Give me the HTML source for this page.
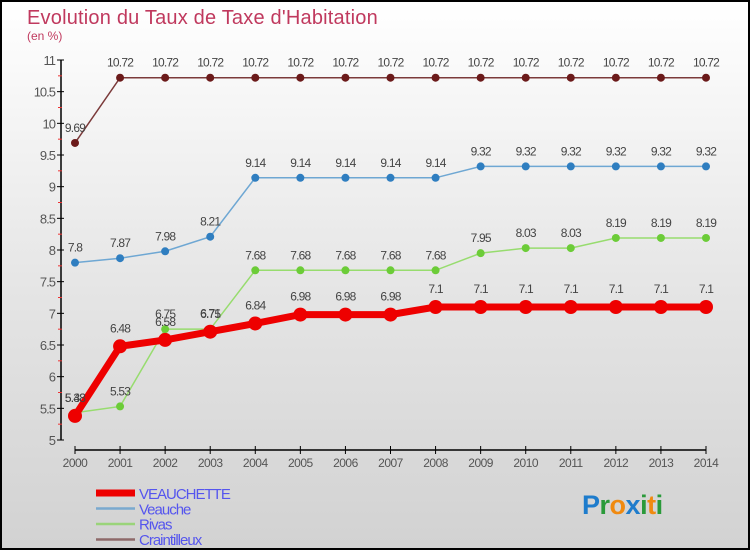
<!DOCTYPE html>
<html><head><meta charset="utf-8"><style>
html,body{margin:0;padding:0;}
#wrap{width:746px;height:546px;border:2px solid #000;position:relative;overflow:hidden;
background:linear-gradient(#ffffff 0%,#e4e4e4 55%,#d2d2d2 100%);font-family:"Liberation Sans",sans-serif;}
svg{position:absolute;left:-2px;top:-2px;}
</style></head><body>
<div id="wrap">
<svg id="chart" width="750" height="550">
<text x="27" y="24" font-size="20" letter-spacing="0.2" fill="#c0395e">Evolution du Taux de Taxe d'Habitation</text>
<text x="27" y="40" font-size="12" fill="#c0395e">(en %)</text>
</svg>
</div>
<script>
const years=[2000,2001,2002,2003,2004,2005,2006,2007,2008,2009,2010,2011,2012,2013,2014];
const veauchette=[5.38,6.48,6.58,6.71,6.84,6.98,6.98,6.98,7.1,7.1,7.1,7.1,7.1,7.1,7.1];
const veauche=[7.8,7.87,7.98,8.21,9.14,9.14,9.14,9.14,9.14,9.32,9.32,9.32,9.32,9.32,9.32];
const rivas=[5.43,5.53,6.75,6.75,7.68,7.68,7.68,7.68,7.68,7.95,8.03,8.03,8.19,8.19,8.19];
const craintilleux=[9.69,10.72,10.72,10.72,10.72,10.72,10.72,10.72,10.72,10.72,10.72,10.72,10.72,10.72,10.72];
const yTicks=[5,5.5,6,6.5,7,7.5,8,8.5,9,9.5,10,10.5,11];
const seriesNames=["VEAUCHETTE","Veauche","Rivas","Craintilleux"];

const svg=document.getElementById('chart');
const NS='http://www.w3.org/2000/svg';
const X=i=>75+i*(706-75)/(years.length-1);
const Y=v=>440-(v-5)*(380/6);
function el(t,a,p){const e=document.createElementNS(NS,t);for(const k in a)e.setAttribute(k,a[k]);(p||svg).appendChild(e);return e;}

let ax=el('line',{x1:61,y1:60,x2:61,y2:440,stroke:'#000','stroke-width':1.5});


yTicks.forEach(v=>{
  el('line',{x1:57,y1:Y(v),x2:64,y2:Y(v),stroke:'#000'});
  if(v<11){el('line',{x1:58,y1:Y(v+0.25),x2:62,y2:Y(v+0.25),stroke:'#e33'});}
  const t=el('text',{x:55,y:Y(v)+5,'text-anchor':'end','font-size':13,fill:'#555','letter-spacing':'-1'});
  t.textContent=String(v);
  
  
});
let xa=el('line',{x1:75,y1:450,x2:706,y2:450,stroke:'#000','stroke-width':1.5});


years.forEach((y,i)=>{
  el('line',{x1:X(i),y1:446,x2:X(i),y2:454,stroke:'#000'});
  const t=el('text',{x:X(i),y:467,'text-anchor':'middle','font-size':12,fill:'#555','letter-spacing':'-0.5'});
  t.textContent=String(y);
  
  
});

function series(data,color,dot,w,r,name){
  const g=el('g',{});
  
  
  el('polyline',{points:data.map((v,i)=>X(i)+','+Y(v)).join(' '),fill:'none',stroke:color,'stroke-width':w},g);
  data.forEach((v,i)=>{
    const c=el('circle',{cx:X(i),cy:Y(v),r:r,fill:dot},g);
    
    
    const t=el('text',{x:X(i),y:Y(v)-(r+7),'text-anchor':'middle','font-size':12,fill:'#444','letter-spacing':'-0.8'},g);
    t.textContent=String(v);
    
    
  });
}
series(craintilleux,'#7b3a3a','#6b1a1a',1.5,4,'craintilleux-series');
series(veauche,'#6ea7d3','#2f7ec0',1.5,4,'veauche-series');
series(rivas,'#97dc6e','#6ccc38',1.5,4,'rivas-series');
series(veauchette,'#ee0000','#ee0000',7,7,'veauchette-series');

const legColors=['#ee0000','#7aa9cf','#9ad47a','#8e6a6a'];
const legW=[7,2.5,2.5,2.5];
seriesNames.forEach((n,i)=>{
  const y=493+i*15;
  const g=el('g',{});
  
  
  el('line',{x1:96,y1:y+i*0.5,x2:135,y2:y+i*0.5,stroke:legColors[i],'stroke-width':legW[i]},g);
  const t=el('text',{x:139,y:y+6+i*0.3,'font-size':15,fill:'#5555ee','letter-spacing':'-1'},g);
  t.textContent=n;
});
const lg=el('text',{x:582,y:514,'font-size':27,'font-weight':'bold','letter-spacing':'-0.5'});


[['P','#1e7ccc'],['r','#2a9a3a'],['o','#f08a10'],['x','#1e7ccc'],['i','#2a9a3a'],['t','#f08a10'],['i','#2a9a3a']].forEach(([c,f])=>{
  const s=el('tspan',{fill:f},lg);s.textContent=c;
});
</script>
</body></html>
